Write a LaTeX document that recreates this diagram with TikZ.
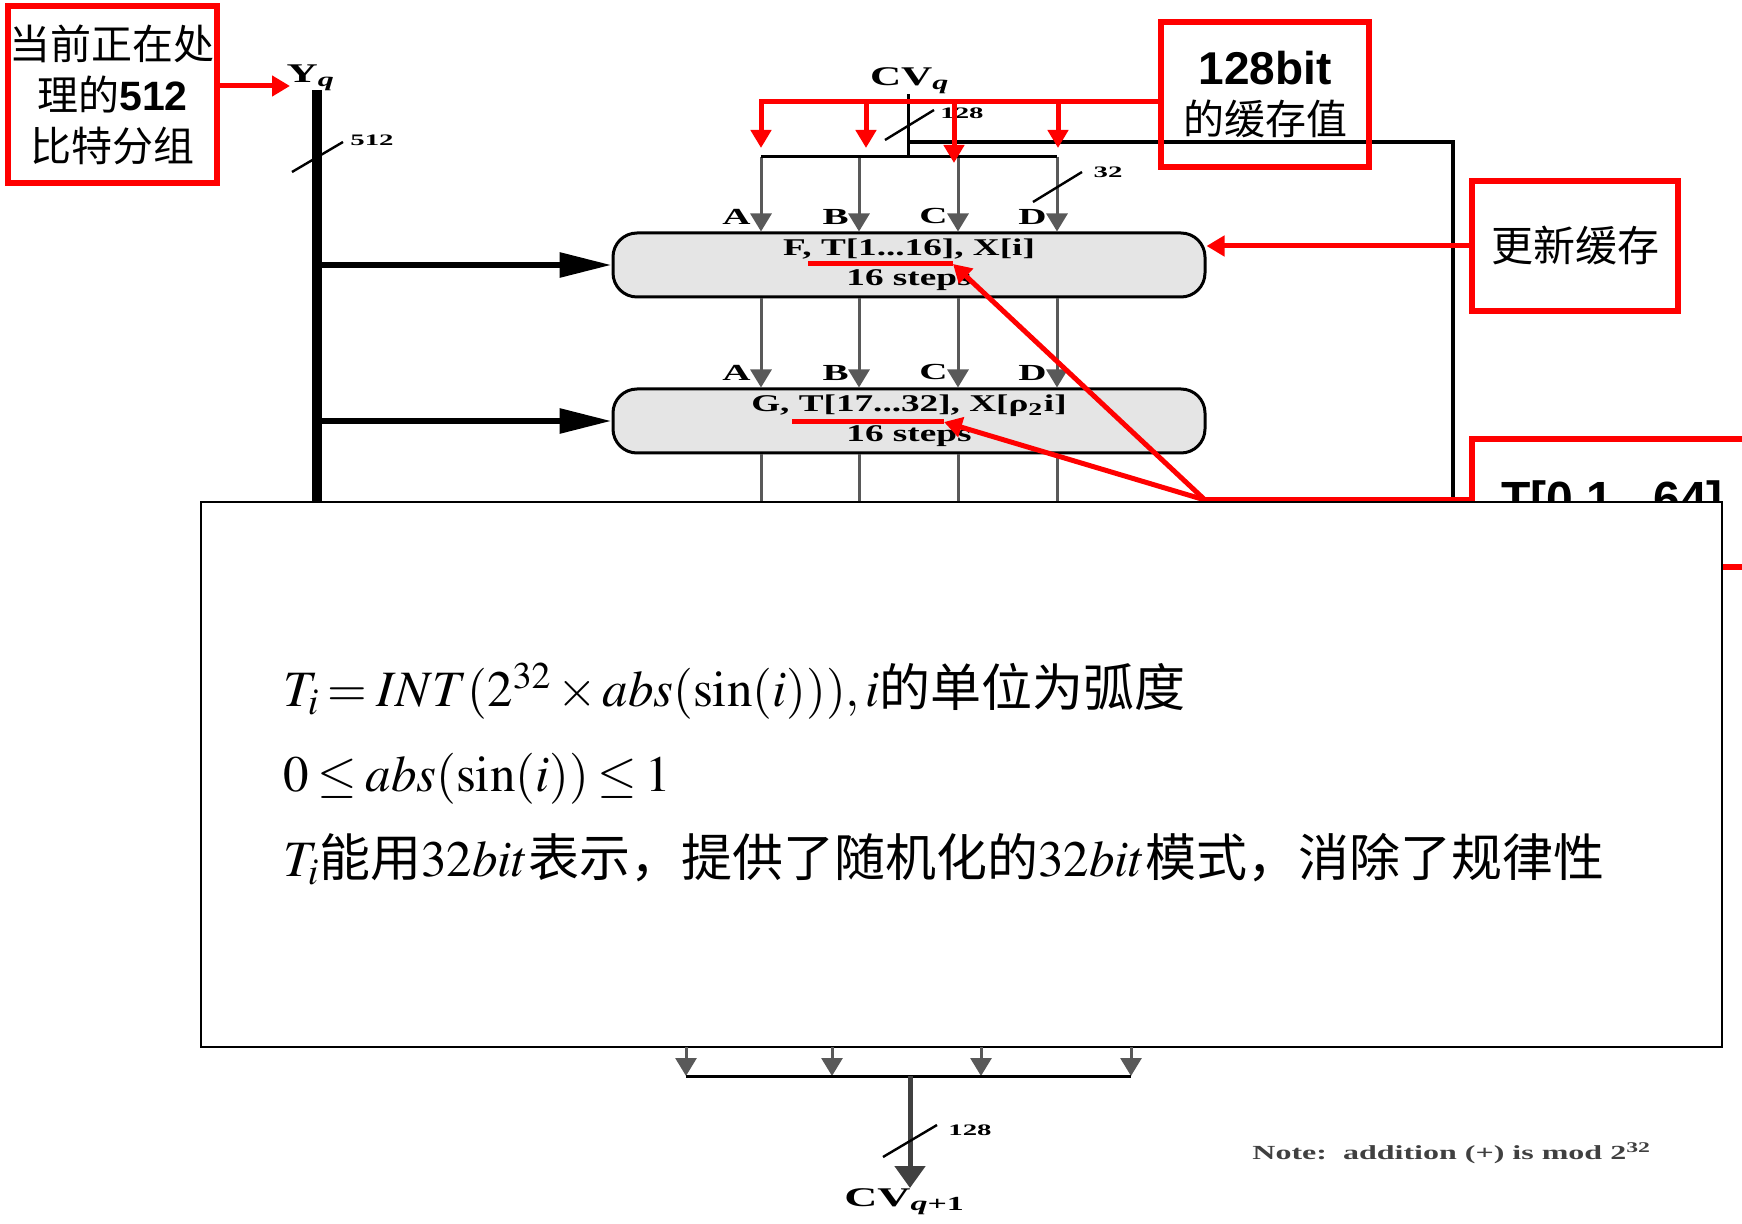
\documentclass[tikz,border=0pt]{standalone}
\usepackage{mathptmx}
\usepackage{fontspec}
\setmainfont{Liberation Serif}
\newfontfamily\cjk{Noto Sans CJK SC}
\newfontfamily\hei{Liberation Sans}
\usepackage{tikz}
\usetikzlibrary{arrows.meta, positioning}

\newcommand{\widetxt}[2][1.5]{\scalebox{#1}[1]{#2}}
\newcommand{\tightmath}{\medmuskip=2mu\relax\thickmuskip=3mu\relax}

\tikzset{
  redbox/.style={draw=red, line width=2.8pt, inner sep=0pt, align=center},
  redline/.style={red, line width=2.5pt},
  redarrow/.style={redline, -{Triangle[length=9pt, width=10pt]}},
  stepbox/.style={draw, line width=1.5pt, fill=gray!20, rounded corners=12pt,
    minimum width=296pt, minimum height=32pt, inner sep=0pt, align=center,
    font=\fontsize{12}{15}\selectfont\bfseries},
  colline/.style={black!65, line width=1.5pt},
  colarrow/.style={colline, -{Triangle[length=9pt, width=10.5pt]}},
  busarrow/.style={line width=3pt, -{Triangle[length=26pt, width=12pt]}},
  bigarrow/.style={black!75, line width=2.5pt, -{Triangle[length=11pt, width=15pt]}},
  abcd/.style={font=\fontsize{11.5}{11.5}\selectfont\bfseries, inner sep=0pt},
  cvlabel/.style={font=\fontsize{13.5}{13.5}\selectfont\bfseries, inner sep=0pt},
  bits/.style={font=\fontsize{8}{8}\selectfont\bfseries, inner sep=0pt},
}

\begin{document}
\begin{tikzpicture}[x=0.5pt, y=-0.5pt]
    \useasboundingbox (0,0) rectangle (1742,1224);
    \clip (0,0) rectangle (1742,1224);
    \coordinate (ovtop) at (0,502);
    \coordinate (ovbot) at (0,1047);

    % 1. Bus Y_q va hai khoi vong
    \node[cvlabel] (ylab) at (311,78) {\widetxt[1.6]{Y\textsubscript{\textit{q}}}};
    \coordinate (ytop) at (317,90);
    \draw[line width=5pt] (ytop) -- (ytop |- ovtop);
    \draw[line width=1.2pt] (292,172) -- (343,142);
    \node[bits] (b512) at (372,140) {\widetxt[1.8]{512}};

    \node[stepbox] (stepF) at (909,265)
        {\widetxt[1.55]{F, T[1...16], X[i]}\\ \widetxt[1.55]{16 steps}};
    \node[stepbox] (stepG) at (909,421)
        {\widetxt[1.55]{G, T[17...32], X[ρ\textsubscript{2}i]}\\ \widetxt[1.55]{16 steps}};
    \draw[busarrow] (ytop |- stepF.west) -- (stepF.west);
    \draw[busarrow] (ytop |- stepG.west) -- (stepG.west);

    % 2. CV_q va cac duong A, B, C, D
    \node[cvlabel, anchor=south] (cvin) at (910,94) {\widetxt[1.6]{CV\textsubscript{\textit{q}}}};
    \coordinate (split) at (908,157);
    \coordinate (fb) at (908,142);
    \coordinate (fbcorner) at (1453,142);
    \draw[line width=1.5pt] (cvin.south -| split) -- (split);
    \draw[line width=2.2pt] (fb) -- (fbcorner) -- (fbcorner |- ovtop);
    \draw[line width=1.2pt] (885,140) -- (934,110);
    \node[bits] (b128) at (962,113) {\widetxt[1.8]{128}};

    \foreach \nm/\x in {A/761, B/859, C/958, D/1057} {
        \coordinate (top\nm) at (\x,157);
        \coordinate (in\nm-F) at (top\nm |- stepF.north);
        \coordinate (in\nm-G) at (top\nm |- stepG.north);
        \draw[colarrow] (top\nm) -- (in\nm-F);
        \draw[colarrow] (top\nm |- stepF.south) -- (in\nm-G);
        \draw[colline] (top\nm |- stepG.south) -- (top\nm |- ovtop);
        \node[abcd, above left=3.5pt and 5pt of in\nm-F] (lab\nm F) {\widetxt[1.7]{\nm}};
        \node[abcd, above left=3.5pt and 5pt of in\nm-G] (lab\nm G) {\widetxt[1.7]{\nm}};
    }
    \draw[line width=1.5pt] (topA) -- (topD);
    \draw[line width=1.2pt] (1033,202) -- (1082,172);
    \node[bits] (b32) at (1108,172) {\widetxt[1.8]{32}};

    % 3. Cac chu thich mau do
    \node[redbox, minimum width=104.5pt, minimum height=88.5pt,
          font=\cjk\fontsize{20.5}{25.5}\selectfont] (cur) at (112.5,94.5)
        {当前正在处\\理的{\hei\bfseries 512}\\比特分组};
    \coordinate (ytip) at (290,86);
    \draw[redarrow] (cur.east |- ytip) -- (ytip);

    \node[redbox, minimum width=104pt, minimum height=72.5pt,
          font=\cjk\fontsize{20.5}{25}\selectfont] (cache) at (1265,94.5)
        {{\hei\bfseries\fontsize{23}{25}\selectfont 128bit}\\的缓存值};
    \coordinate (rA) at (761,102);
    \draw[redarrow] (cache.west |- rA) -- (rA) -- (761,148);
    \foreach \x/\yy in {866/148, 954/163, 1058/148}
        \draw[redarrow] (\x,102) -- (\x,\yy);

    \node[redbox, minimum width=103pt, minimum height=65pt,
          font=\cjk\fontsize{21}{21}\selectfont] (upd) at (1575,246) {更新缓存};
    \draw[redarrow] (upd.west) -- (upd.west -| stepF.east);

    \node[redbox, minimum width=140pt, minimum height=64pt,
          font=\hei\bfseries\fontsize{24}{24}\selectfont] (tbl) at (1612,503) {T[0,1...64]};

    \coordinate (ul1) at (953,264);
    \coordinate (ul2) at (944,422);
    \coordinate (jn) at (1205,500);
    \draw[redline] (808,264) -- (ul1);
    \draw[redline] (792,422) -- (ul2);
    \draw[redarrow] (jn) -- (ul1);
    \draw[redarrow] (jn) -- (ul2);
    \draw[redline] (jn) -- (jn -| tbl.west);

    % 4. Khung cong thuc che phu
    \node[draw, line width=1pt, fill=white, minimum width=760.5pt,
          minimum height=272.5pt, inner sep=0pt] (over) at (961.5,774.5) {};
    \node[anchor=west, align=left, inner sep=0pt,
          font=\fontsize{25.5}{42.5}\selectfont\tightmath]
          (formula) at (283,774)
        {$T_i = INT(2^{32}\times abs(\sin(i))),i${\cjk 的单位为弧度}\\
         $0\le abs(\sin(i))\le 1$\\
         $T_i${\cjk 能用}$32bit${\cjk 表示，提供了随机化的}$32bit${\cjk 模式，消除了规律性}};

    % 5. Phan duoi: cong va CV_{q+1}
    \foreach \i/\x in {1/686, 2/832, 3/981, 4/1131} {
        \coordinate (bot\i) at (\x,1076);
        \draw[colarrow] (bot\i |- ovbot) -- (bot\i);
    }
    \draw[line width=1.5pt] (bot1) -- (bot4);
    \coordinate (merge) at (910,1076);
    \node[cvlabel, anchor=north] (cvout) at (905,1188)
        {\widetxt[1.7]{CV\textsubscript{\textit{q}+1}}};
    \draw[bigarrow] (merge) -- (merge |- cvout.north);
    \draw[line width=1.2pt] (883,1157) -- (937,1125);
    \node[bits] (b128out) at (970,1130) {\widetxt[1.8]{128}};

    \node[font=\fontsize{10}{10}\selectfont\bfseries, text=black!75] (note) at (1452,1153)
        {\widetxt[1.6]{Note:~~addition (+) is mod 2\textsuperscript{32}}};
\end{tikzpicture}
\end{document}
